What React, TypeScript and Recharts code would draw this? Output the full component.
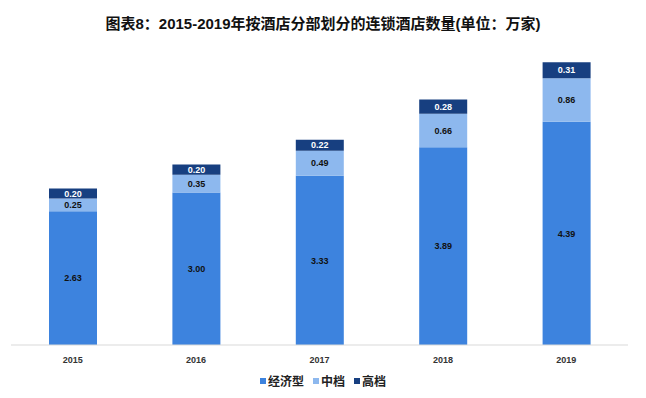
import { BarChart, Bar, XAxis, YAxis, LabelList } from "recharts";

const years = ["2015", "2016", "2017", "2018", "2019"];
const economy = [2.63, 3.0, 3.33, 3.89, 4.39];
const midscale = [0.25, 0.35, 0.49, 0.66, 0.86];
const upscale = [0.2, 0.2, 0.22, 0.28, 0.31];

const COLORS = {
  economy: "#3d83de",
  mid: "#8db8ee",
  up: "#173f80",
};

const data = years.map((y, i) => ({
  year: y,
  economy: economy[i],
  mid: midscale[i],
  up: upscale[i],
}));

const FONT = '"Liberation Sans", "Noto Sans CJK SC", sans-serif';
const fmt = (v: any) => Number(v).toFixed(2);

export default function App() {
  return (
    <div style={{ position: "absolute", left: 0, top: 0, width: 646, height: 398, background: "#fff", fontFamily: FONT }}>
      <div
        style={{
          position: "absolute",
          top: 12,
          left: 0,
          width: 646,
          textAlign: "center",
          fontSize: 15,
          fontWeight: "bold",
          color: "#111",
        }}
      >
        图表8：2015-2019年按酒店分部划分的连锁酒店数量(单位：万家)
      </div>
      <BarChart
        width={646}
        height={398}
        data={data}
        margin={{ top: 40, right: 18, left: 11, bottom: 33 }}
        barSize={48}
      >
        <XAxis
          dataKey="year"
          height={20}
          axisLine={{ stroke: "#d9d9d9" }}
          tickLine={false}
          tick={{ fontSize: 9, fontWeight: "bold", fill: "#333", fontFamily: FONT }}
          tickMargin={6}
        />
        <YAxis hide domain={[0, 6]} />
        <Bar dataKey="economy" stackId="a" fill={COLORS.economy} isAnimationActive={false}>
          <LabelList dataKey="economy" position="center" formatter={fmt} style={{ fontSize: 9, fontWeight: "bold", fill: "#111", fontFamily: FONT }} />
        </Bar>
        <Bar dataKey="mid" stackId="a" fill={COLORS.mid} isAnimationActive={false}>
          <LabelList dataKey="mid" position="center" formatter={fmt} style={{ fontSize: 9, fontWeight: "bold", fill: "#111", fontFamily: FONT }} />
        </Bar>
        <Bar dataKey="up" stackId="a" fill={COLORS.up} isAnimationActive={false}>
          <LabelList dataKey="up" position="center" formatter={fmt} style={{ fontSize: 9, fontWeight: "bold", fill: "#fff", fontFamily: FONT }} />
        </Bar>
      </BarChart>
      <div
        style={{
          position: "absolute",
          top: 372,
          left: 0,
          width: 646,
          display: "flex",
          justifyContent: "center",
          gap: 9,
          fontSize: 12,
          fontWeight: "bold",
          color: "#222",
          fontFamily: '"Noto Sans CJK SC", sans-serif',
        }}
      >
        {[
          { name: "经济型", color: COLORS.economy },
          { name: "中档", color: COLORS.mid },
          { name: "高档", color: COLORS.up },
        ].map((it) => (
          <span key={it.name} style={{ display: "inline-flex", alignItems: "center", gap: 2 }}>
            <span style={{ width: 6, height: 6, background: it.color, display: "inline-block" }} />
            {it.name}
          </span>
        ))}
      </div>
    </div>
  );
}
